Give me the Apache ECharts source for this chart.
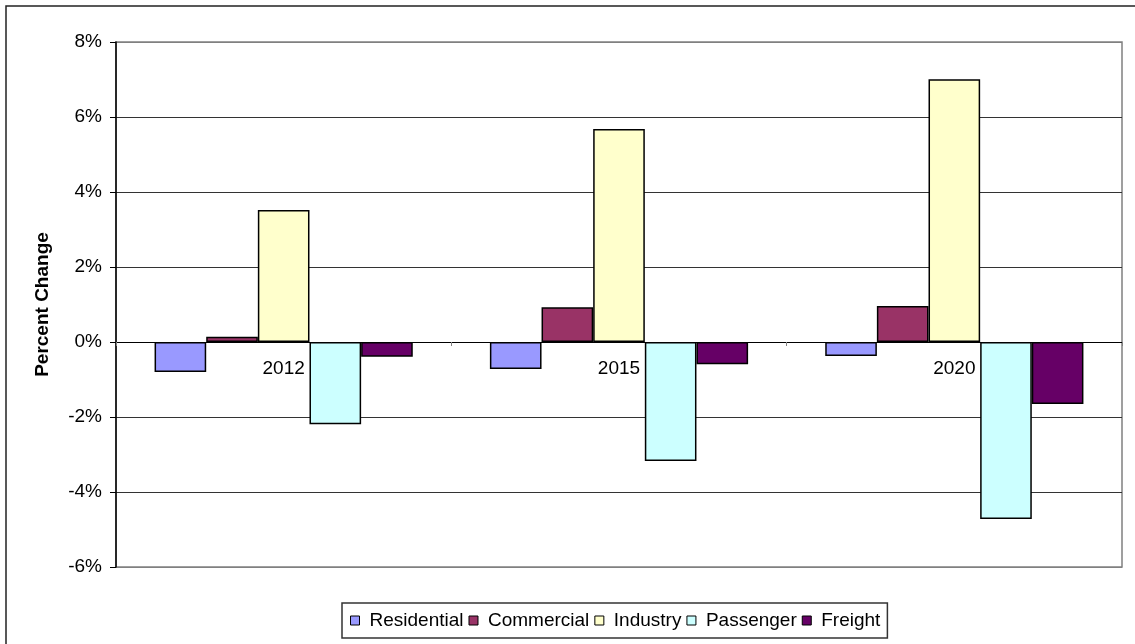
<!DOCTYPE html>
<html>
<head>
<meta charset="utf-8">
<script src="https://cdn.jsdelivr.net/npm/echarts@6/dist/echarts.min.js"></script>
<style>
  html, body { margin: 0; padding: 0; background: #fff; }
  #chart { width: 1135px; height: 644px; }
</style>
</head>
<body>
<div id="chart"></div>
<script>
// years on the x axis
const years = ['2012', '2015', '2020'];
// percent change per sector
const residential = [-0.80, -0.72, -0.37];
const commercial = [0.14, 0.93, 0.96];
const industry = [3.52, 5.68, 7.01];
const passenger = [-2.19, -3.17, -4.72];
const freight = [-0.39, -0.59, -1.65];

const names = ['Residential', 'Commercial', 'Industry', 'Passenger', 'Freight'];
const colors = ['#9999FF', '#993366', '#FFFFCC', '#CCFFFF', '#660066'];
const values = [residential, commercial, industry, passenger, freight];

const font = 'Liberation Sans, Arial, sans-serif';
const yMin = -6, yMax = 8;
const gridTop = 42, gridBottom = 77, chartH = 644;
// distance from plot bottom up to the 0% line, so the category axis sits on zero
const plotH = chartH - gridTop - gridBottom;
const zeroOffset = plotH * (0 - yMin) / (yMax - yMin);

const myChart = echarts.init(document.getElementById('chart'));

const series = names.map((name, i) => ({
  name: name,
  type: 'bar',
  data: values[i],
  barGap: '0%',
  barCategoryGap: '23%',
  itemStyle: { color: colors[i], borderColor: '#000', borderWidth: 1.5 }
}));

myChart.setOption({
  animation: false,
  backgroundColor: '#fff',
  textStyle: { fontFamily: font },
  grid: {
    left: 116, right: 13, top: gridTop, bottom: gridBottom,
    show: true, borderColor: '#808080', borderWidth: 1.5
  },
  graphic: [{
    type: 'rect',
    shape: { x: 6, y: 6, width: 1200, height: 700 },
    style: { fill: 'none', stroke: '#222', lineWidth: 1.5 },
    silent: true
  }],
  legend: {
    data: names,
    left: 342,
    top: 603,
    padding: [8, 7, 8, 8],
    itemGap: 5,
    itemWidth: 9,
    itemHeight: 9,
    icon: 'rect',
    borderColor: '#333',
    borderWidth: 1.5,
    itemStyle: { borderColor: '#000', borderWidth: 1 },
    textStyle: { fontSize: 19, color: '#000', fontFamily: font, padding: [0, 0, 0, 5] }
  },
  xAxis: {
    type: 'category',
    data: years,
    position: 'bottom',
    offset: -zeroOffset,
    axisLine: { onZero: false, lineStyle: { color: '#000', width: 1 } },
    axisTick: { show: true, length: 4, lineStyle: { color: '#808080' } },
    axisLabel: { fontSize: 19, color: '#000', margin: 17, fontFamily: font },
    z: 5
  },
  yAxis: {
    type: 'value',
    min: yMin, max: yMax, interval: 2,
    name: 'Percent Change',
    nameLocation: 'middle',
    nameGap: 64,
    nameTextStyle: { fontSize: 19, fontWeight: 'bold', color: '#000', fontFamily: font },
    axisLine: { show: true, lineStyle: { color: '#000', width: 1.5 } },
    axisTick: { show: true, length: 6, lineStyle: { color: '#000' } },
    axisLabel: { fontSize: 19, color: '#000', margin: 14, formatter: '{value}%', fontFamily: font },
    splitLine: {
      lineStyle: {
        color: ['#808080', '#333', '#333', '#000', '#333', '#333', '#333', '#808080'],
        width: 1
      }
    }
  },
  series: series
});
</script>
</body>
</html>
